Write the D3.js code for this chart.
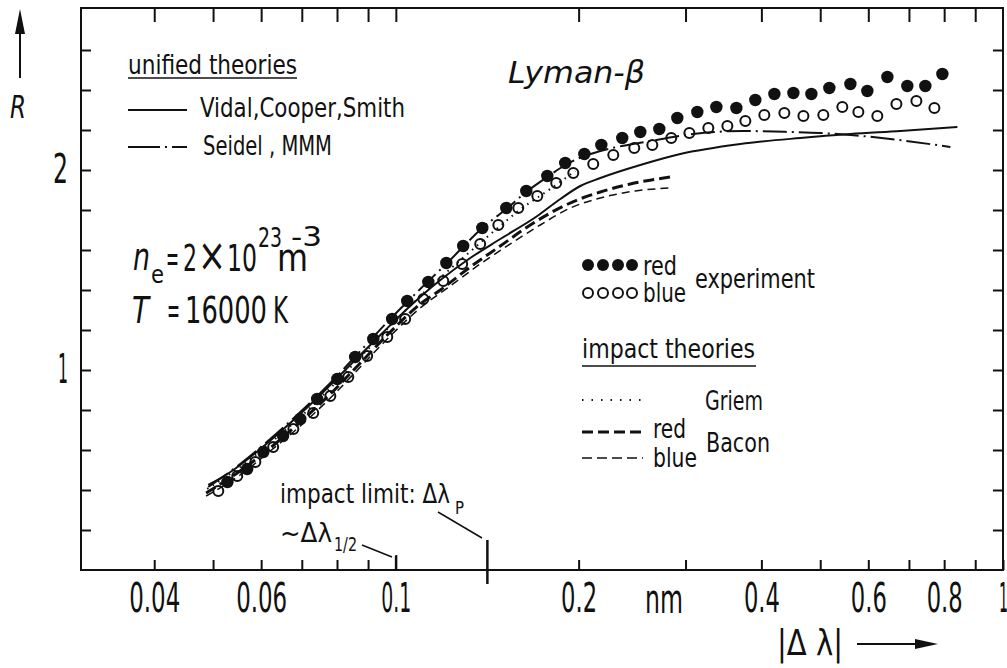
<!DOCTYPE html>
<html>
<head>
<meta charset="utf-8">
<script src="https://cdn.jsdelivr.net/npm/d3@7/dist/d3.min.js"></script>
<style>
  body { margin: 0; background: #fff; }
  svg { display: block; }
  text { font-family: "DejaVu Sans Condensed", "Liberation Sans", sans-serif; fill: #111; }
</style>
</head>
<body>
<div id="chart"></div>
<script>
// axis ticks (log x in nm, linear R)
const xTicks = [0.04, 0.05, 0.06, 0.07, 0.08, 0.09, 0.1, 0.2, 0.3, 0.4, 0.5, 0.6, 0.7, 0.8, 0.9];
const xTickLabels = [0.04, 0.06, 0.1, 0.2, 0.4, 0.6, 0.8, 1];
const yTicks = [0.2, 0.4, 0.6, 0.8, 1, 1.2, 1.4, 1.6, 1.8, 2, 2.2, 2.4, 2.6];
const yTickLabels = [1, 2];

// experiment, [|dlambda| nm, R]
const redWing = [
  [0.0528, 0.44], [0.0569, 0.505], [0.0605, 0.59], [0.0652, 0.67], [0.0696, 0.755],
  [0.0742, 0.855], [0.0801, 0.955], [0.0857, 1.065], [0.0918, 1.155], [0.0986, 1.255],
  [0.1044, 1.345], [0.1131, 1.44], [0.1211, 1.535], [0.1291, 1.62], [0.1388, 1.71],
  [0.1520, 1.81], [0.1640, 1.895], [0.1776, 1.97], [0.1901, 2.035], [0.2044, 2.08],
  [0.2180, 2.125], [0.2360, 2.16], [0.2527, 2.19], [0.2716, 2.205], [0.2908, 2.26],
  [0.3137, 2.29], [0.3372, 2.315], [0.3638, 2.31], [0.3909, 2.35], [0.4202, 2.38],
  [0.4516, 2.385], [0.4835, 2.38], [0.5176, 2.41], [0.5606, 2.43], [0.5978, 2.395],
  [0.6450, 2.465], [0.6957, 2.42], [0.7449, 2.42], [0.7946, 2.48]
];
const blueWing = [
  [0.0510, 0.395], [0.0548, 0.47], [0.0587, 0.54], [0.0628, 0.615], [0.0678, 0.705],
  [0.0731, 0.785], [0.0780, 0.87], [0.0835, 0.965], [0.0897, 1.07], [0.0968, 1.165],
  [0.1036, 1.255], [0.1110, 1.355], [0.1197, 1.445], [0.1286, 1.53], [0.1377, 1.63],
  [0.1475, 1.725], [0.1591, 1.81], [0.1710, 1.87], [0.1837, 1.935], [0.1960, 1.985],
  [0.2114, 2.03], [0.2281, 2.075], [0.2470, 2.11], [0.2645, 2.125], [0.2842, 2.16],
  [0.3044, 2.185], [0.3271, 2.21], [0.3516, 2.22], [0.3764, 2.245], [0.4045, 2.275],
  [0.4364, 2.285], [0.4691, 2.27], [0.5059, 2.275], [0.5437, 2.315], [0.5778, 2.29],
  [0.6209, 2.27], [0.6675, 2.33], [0.7200, 2.345], [0.7709, 2.31]
];

// unified theories
const vidalCooperSmith = [
  [0.0491, 0.425], [0.0534, 0.49], [0.0598, 0.605], [0.0670, 0.735], [0.0751, 0.875],
  [0.0841, 1.025], [0.0943, 1.175], [0.1056, 1.32], [0.1184, 1.45], [0.1326, 1.56],
  [0.1486, 1.655], [0.1710, 1.77], [0.1866, 1.855], [0.2013, 1.92], [0.2172, 1.96],
  [0.2527, 2.025], [0.2941, 2.08], [0.3694, 2.13], [0.4637, 2.16], [0.5608, 2.18],
  [0.6775, 2.195], [0.8411, 2.215]
];
const seidelMMM = [
  [0.0491, 0.415], [0.0554, 0.53], [0.0621, 0.655], [0.0696, 0.79], [0.0780, 0.935],
  [0.0874, 1.095], [0.0979, 1.255], [0.1097, 1.405], [0.1215, 1.535], [0.1388, 1.71],
  [0.1520, 1.805], [0.1640, 1.89], [0.1776, 1.965], [0.1901, 2.025], [0.2043, 2.07],
  [0.2172, 2.095], [0.2625, 2.145], [0.3090, 2.18], [0.3722, 2.195], [0.4464, 2.19],
  [0.5002, 2.185], [0.5608, 2.175], [0.6524, 2.155], [0.8191, 2.115]
];

// impact theories
const griem = [
  [0.0489, 0.405], [0.0554, 0.515], [0.0621, 0.635], [0.0696, 0.765], [0.0780, 0.91],
  [0.0874, 1.065], [0.0979, 1.22], [0.1097, 1.37], [0.1229, 1.505], [0.1377, 1.635],
  [0.1526, 1.75], [0.1591, 1.795], [0.1796, 1.905], [0.1975, 1.995]
];
const baconRed = [
  [0.0487, 0.385], [0.0554, 0.495], [0.0621, 0.61], [0.0696, 0.74], [0.0780, 0.88],
  [0.0874, 1.035], [0.0979, 1.19], [0.1097, 1.33], [0.1184, 1.40], [0.1326, 1.515],
  [0.1486, 1.62], [0.1646, 1.715], [0.1796, 1.785], [0.1990, 1.85], [0.2172, 1.89],
  [0.2433, 1.93], [0.2831, 1.965]
];
const baconBlue = [
  [0.0487, 0.37], [0.0554, 0.475], [0.0621, 0.595], [0.0696, 0.72], [0.0780, 0.86],
  [0.0874, 1.015], [0.0979, 1.17], [0.1097, 1.31], [0.1229, 1.42], [0.1377, 1.53],
  [0.1543, 1.63], [0.1729, 1.725], [0.1938, 1.81], [0.2172, 1.86], [0.2480, 1.895],
  [0.2831, 1.91]
];

// impact limit marks
const impactLimitP = 0.1415;
const halfWidth = 0.1;

const width = 1007, height = 668;
const ink = "#111";

const svg = d3.select("#chart").append("svg")
  .attr("width", width)
  .attr("height", height);

const x = d3.scaleLog().domain([0.0303, 1]).range([81, 1003]);
const y = d3.scaleLinear().domain([0, 2.81]).range([570, 8]);

// narrow lettering: squeeze each tick label to a fixed width
const tickLen = s => [...s].reduce((a, c) => a + (c === "." ? 6 : c === "1" ? 9 : 15), 0);

// axes, all ticks pointing inward
svg.append("g")
  .attr("transform", `translate(0,${y(0)})`)
  .call(d3.axisBottom(x).tickValues(xTicks.concat([1])).tickSizeInner(-10).tickSizeOuter(0)
    .tickPadding(14).tickFormat(d => xTickLabels.includes(d) ? String(d) : ""))
  .call(g => g.select(".domain").remove())
  .call(g => g.selectAll(".tick line").attr("stroke", ink).attr("stroke-width", 2)
    .attr("y2", d => d === 0.1 ? -15 : -10))
  .call(g => g.selectAll(".tick text").attr("font-size", 40).attr("font-family", null)
    .attr("font-weight", 300).attr("fill", ink)
    .attr("textLength", d => xTickLabels.includes(d) ? tickLen(String(d)) : null)
    .attr("lengthAdjust", "spacingAndGlyphs"));

svg.append("g")
  .attr("transform", `translate(0,${y.range()[1]})`)
  .call(d3.axisTop(x).tickValues(xTicks).tickSizeInner(-14).tickSizeOuter(0).tickFormat(""))
  .call(g => g.select(".domain").remove())
  .call(g => g.selectAll(".tick line").attr("stroke", ink).attr("stroke-width", 2));

svg.append("g")
  .attr("transform", `translate(${x.range()[0]},0)`)
  .call(d3.axisLeft(y).tickValues(yTicks).tickSizeInner(-10).tickSizeOuter(0).tickPadding(13)
    .tickFormat(d => yTickLabels.includes(d) ? String(d) : ""))
  .call(g => g.select(".domain").remove())
  .call(g => g.selectAll(".tick line").attr("stroke", ink).attr("stroke-width", 2))
  .call(g => g.selectAll(".tick text").attr("font-size", 40).attr("font-family", null)
    .attr("font-weight", 300).attr("fill", ink)
    .attr("textLength", d => d === 2 ? 15 : d === 1 ? 10 : null)
    .attr("lengthAdjust", "spacingAndGlyphs"));

svg.append("g")
  .attr("transform", `translate(${x.range()[1]},0)`)
  .call(d3.axisRight(y).tickValues(yTicks).tickSizeInner(-10).tickSizeOuter(0).tickFormat(""))
  .call(g => g.select(".domain").remove())
  .call(g => g.selectAll(".tick line").attr("stroke", ink).attr("stroke-width", 2));

// frame
svg.append("rect")
  .attr("x", x.range()[0]).attr("y", y.range()[1])
  .attr("width", x.range()[1] - x.range()[0])
  .attr("height", y(0) - y.range()[1])
  .attr("fill", "none").attr("stroke", ink).attr("stroke-width", 2);

// curves
const line = d3.line()
  .x(d => x(d[0]))
  .y(d => y(d[1]))
  .curve(d3.curveMonotoneX);

const curves = [
  { data: baconBlue, w: 1.5, dash: "8,5" },
  { data: baconRed, w: 3, dash: "11,5" },
  { data: griem, w: 2, dash: "1.5,5" },
  { data: vidalCooperSmith, w: 2, dash: null },
  { data: seidelMMM, w: 2, dash: "24,5,2,5" }
];

svg.append("g").selectAll("path")
  .data(curves)
  .enter().append("path")
  .attr("d", d => line(d.data))
  .attr("fill", "none")
  .attr("stroke", ink)
  .attr("stroke-width", d => d.w)
  .attr("stroke-dasharray", d => d.dash);

// experimental points
svg.append("g").selectAll("circle")
  .data(redWing)
  .enter().append("circle")
  .attr("cx", d => x(d[0]))
  .attr("cy", d => y(d[1]))
  .attr("r", 6.2)
  .attr("fill", ink);

svg.append("g").selectAll("circle")
  .data(blueWing)
  .enter().append("circle")
  .attr("cx", d => x(d[0]))
  .attr("cy", d => y(d[1]))
  .attr("r", 5)
  .attr("fill", "none")
  .attr("stroke", ink)
  .attr("stroke-width", 2);

// text helpers
function label(px, py, str, size, opts) {
  opts = opts || {};
  const t = svg.append("text")
    .attr("x", px).attr("y", py)
    .attr("font-size", size)
    .text(str);
  if (opts.italic) t.attr("font-style", "italic");
  if (opts.len) t.attr("textLength", opts.len).attr("lengthAdjust", "spacingAndGlyphs");
  if (opts.anchor) t.attr("text-anchor", opts.anchor);
  return t;
}
// one text element built from placed pieces (sub/superscripts)
function rich(pieces) {
  const t = svg.append("text");
  pieces.forEach(p => {
    const s = t.append("tspan")
      .attr("x", p[0]).attr("y", p[1])
      .attr("font-size", p[3])
      .text(p[2]);
    if (p[4]) s.attr("textLength", p[4]).attr("lengthAdjust", "spacingAndGlyphs");
    if (p[5]) s.attr("font-style", "italic");
  });
  return t;
}
function seg(x1, y1, x2, y2, w, dash) {
  svg.append("line")
    .attr("x1", x1).attr("y1", y1).attr("x2", x2).attr("y2", y2)
    .attr("stroke", ink).attr("stroke-width", w)
    .attr("stroke-dasharray", dash || null);
}

// unified theories legend
label(128, 74, "unified theories", 26, { len: 169 });
seg(128, 78, 297, 78, 1.6);
seg(128, 110, 187, 110, 2);
label(200, 117, "Vidal,Cooper,Smith", 26, { len: 205 });
seg(128, 147, 187, 147, 2, "32,5,2,5");
label(203, 155, "Seidel , MMM", 26, { len: 129 });

// title
label(508, 83, "Lyman-\u03b2", 31, { italic: true, len: 137 });

// conditions
rich([
  [133, 270, "n", 38, 17, true],
  [151, 283, "e", 24, 13],
  [166, 271, "=", 37, 13],
  [183, 271, "2", 37, 14],
  [198, 271, "\u00d7", 46, 28],
  [227, 271, "10", 37, 30],
  [258, 247, "23", 27, 24],
  [277, 271, "m", 37, 31],
  [291, 246, "-3", 27, 31]
]);
rich([
  [132, 323, "T", 37, 17, true],
  [167, 323, "=", 37, 13],
  [185, 323, "16000", 37, 82],
  [273, 323, "K", 37, 15]
]);

// experiment legend
[588, 603, 618, 632].forEach(cx => {
  svg.append("circle").attr("cx", cx).attr("cy", 265).attr("r", 6).attr("fill", ink);
  svg.append("circle").attr("cx", cx).attr("cy", 293).attr("r", 5)
    .attr("fill", "none").attr("stroke", ink).attr("stroke-width", 2);
});
label(643, 275, "red", 26, { len: 34 });
label(643, 302, "blue", 26, { len: 43 });
label(695, 288, "experiment", 26, { len: 120 });

// impact theories legend
label(582, 358, "impact theories", 26, { len: 173 });
seg(582, 366, 756, 366, 1.6);
seg(582, 400, 642, 400, 2, "1.5,8");
label(705, 410, "Griem", 26, { len: 58 });
seg(582, 432, 643, 432, 3, "11,5");
label(653, 438, "red", 26, { len: 33 });
seg(582, 458, 643, 458, 1.5, "10,5");
label(653, 467, "blue", 26, { len: 44 });
label(706, 452, "Bacon", 26, { len: 64 });

// impact limit annotation
rich([
  [280, 503, "impact limit: \u0394\u03bb", 26, 170],
  [455, 514, "P", 18, 9]
]);
rich([
  [280, 542, "~\u0394\u03bb", 26, 52],
  [334, 551, "1/2", 20, 23]
]);
seg(438, 512, 482, 538, 1.5);
seg(x(impactLimitP), 540, x(impactLimitP), 584, 2.5);
seg(362, 545, 392, 557, 1.5);
seg(x(halfWidth), 556, x(halfWidth), 570, 2);

// axis titles
label(664, 613, "nm", 40, { anchor: "middle", len: 38 }).attr("font-weight", 300);
label(10, 118, "R", 32, { italic: true, len: 16 });
seg(20, 78, 20, 32, 2);
svg.append("path").attr("d", "M15,34 L20,9 L25,34 Z").attr("fill", ink);
label(777, 655, "|\u0394 \u03bb|", 36, { len: 66 });
seg(857, 644, 918, 644, 2);
svg.append("path").attr("d", "M915,639 L938,644 L915,649 Z").attr("fill", ink);
</script>
</body>
</html>
